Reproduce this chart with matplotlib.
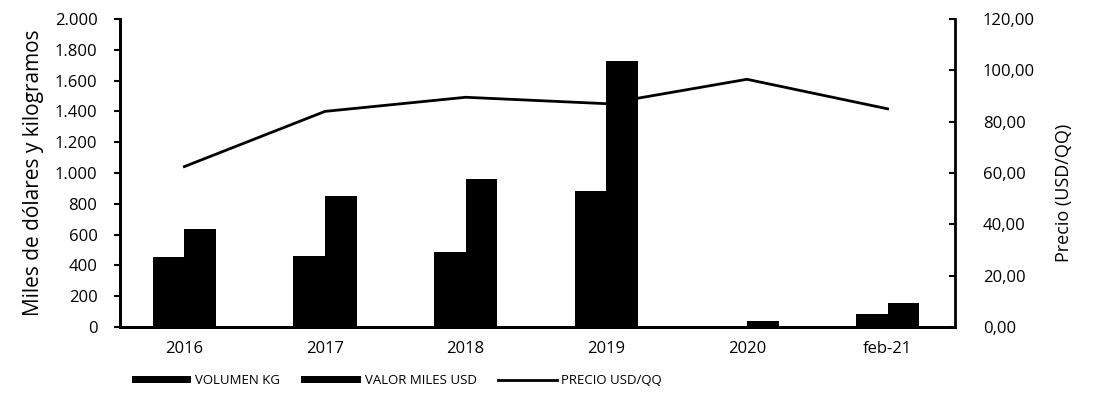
import matplotlib.pyplot as plt
import numpy as np
from matplotlib.ticker import FuncFormatter

# Data
categorias = ["2016", "2017", "2018", "2019", "2020", "feb-21"]
volumen_kg = [455, 461, 487, 883, 10, 84]
valor_miles_usd = [636, 851, 961, 1727, 37, 158]
precio_usd_qq = [62.5, 84.0, 89.5, 87.0, 96.5, 85.0]

plt.rcParams['font.family'] = ['Open Sans', 'DejaVu Sans']

fig, ax = plt.subplots(figsize=(11.08, 3.95), dpi=100)
fig.subplots_adjust(left=0.108, right=0.862, top=0.952, bottom=0.172)

x = np.arange(len(categorias))
w = 0.225
ax.bar(x - w / 2, volumen_kg, width=w, color='black', label="VOLUMEN KG")
ax.bar(x + w / 2, valor_miles_usd, width=w, color='black', label="VALOR MILES USD")

ax.set_ylim(0, 2000)
ax.set_xlim(-0.46, len(categorias) - 0.52)
ax.set_yticks(np.arange(0, 2001, 200))
ax.yaxis.set_major_formatter(FuncFormatter(lambda v, p: f"{int(v):,}".replace(",", ".")))
ax.set_xticks(x)
ax.set_xticklabels(categorias)
ax.tick_params(axis='x', length=0, pad=10, labelsize=12)
ax.tick_params(axis='y', length=4, width=1.5, labelsize=12, direction='out', pad=12)
ax.set_ylabel("Miles de dólares y kilogramos", fontsize=15, labelpad=8)

ax2 = ax.twinx()
ax2.plot(x, precio_usd_qq, color='black', linewidth=2, label="PRECIO USD/QQ")
ax2.set_ylim(0, 120)
ax2.set_yticks(np.arange(0, 121, 20))
ax2.yaxis.set_major_formatter(FuncFormatter(lambda v, p: f"{v:.2f}".replace(".", ",")))
ax2.tick_params(axis='y', length=4, width=1.5, labelsize=12, direction='in', pad=20)
ax2.set_ylabel("Precio (USD/QQ)", fontsize=13)
ax2.yaxis.set_label_coords(1.12, 0.435)

for a in (ax, ax2):
    a.spines['top'].set_visible(False)
    for s in ('left', 'right', 'bottom'):
        a.spines[s].set_linewidth(2)
ax.spines['right'].set_visible(False)

h1, l1 = ax.get_legend_handles_labels()
h2, l2 = ax2.get_legend_handles_labels()
fig.legend(h1 + h2, l1 + l2, loc='lower center', bbox_to_anchor=(0.358, -0.01),
           ncol=3, frameon=False, fontsize=9.5, handlelength=4.5, handleheight=0.45,
           columnspacing=1.6, handletextpad=0.3)

plt.savefig("out.png", dpi=100)
